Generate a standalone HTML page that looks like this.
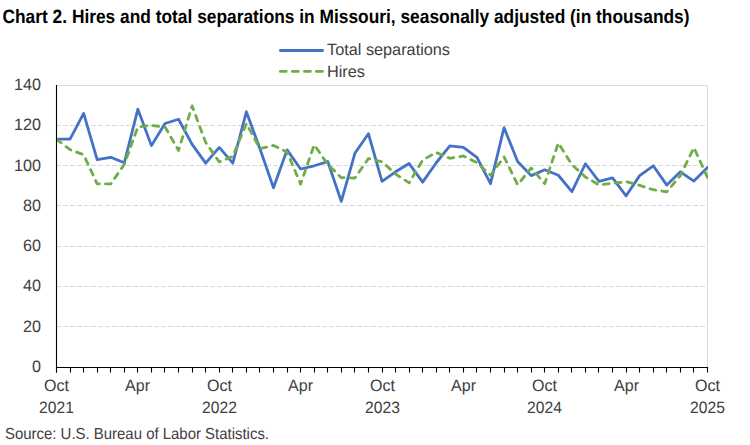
<!DOCTYPE html>
<html><head><meta charset="utf-8">
<style>
html,body{margin:0;padding:0;background:#fff;}
body{width:750px;height:445px;overflow:hidden;}
svg{display:block;font-family:"Liberation Sans",sans-serif;text-rendering:geometricPrecision;}
</style></head>
<body>
<svg width="750" height="445" viewBox="0 0 750 445">
<defs><clipPath id="pc"><rect x="56.5" y="0" width="651.5" height="445"/></clipPath></defs>
<rect x="0" y="0" width="750" height="445" fill="#fff"/>
<text x="2.5" y="22.7" font-size="19.2" font-weight="bold" fill="#000" textLength="687" lengthAdjust="spacingAndGlyphs">Chart 2. Hires and total separations in Missouri, seasonally adjusted (in thousands)</text>
<line x1="280.4" y1="50.5" x2="322.6" y2="50.5" stroke="#4472C4" stroke-width="2.8" stroke-linecap="round"/>
<path d="M280.4 71.4H286.2M292.4 71.4H298.3M304.4 71.4H310.4M316.4 71.4H322.5" stroke="#70AD47" stroke-width="2.8" stroke-linecap="round"/>
<g font-size="16.3" fill="#404040">
<text x="327" y="55.2" textLength="123" lengthAdjust="spacingAndGlyphs">Total separations</text>
<text x="327" y="76.6" textLength="38" lengthAdjust="spacingAndGlyphs">Hires</text>
</g>
<path d="M56 326.5H707M56 286.5H707M56 246.5H707M56 205.5H707M56 165.5H707M56 125.5H707" fill="none" stroke="#D9D9D9" stroke-width="1" stroke-dasharray="5 2"/>
<path d="M56 85.5H707.5V367" fill="none" stroke="#D9D9D9" stroke-width="1"/>
<g font-size="16.5" fill="#404040" text-anchor="end">
<text x="41" y="372.00" textLength="9.0" lengthAdjust="spacingAndGlyphs">0</text>
<text x="41" y="331.71" textLength="18.0" lengthAdjust="spacingAndGlyphs">20</text>
<text x="41" y="291.43" textLength="18.0" lengthAdjust="spacingAndGlyphs">40</text>
<text x="41" y="251.14" textLength="18.0" lengthAdjust="spacingAndGlyphs">60</text>
<text x="41" y="210.86" textLength="18.0" lengthAdjust="spacingAndGlyphs">80</text>
<text x="41" y="170.57" textLength="27.0" lengthAdjust="spacingAndGlyphs">100</text>
<text x="41" y="130.29" textLength="27.0" lengthAdjust="spacingAndGlyphs">120</text>
<text x="41" y="90.00" textLength="27.0" lengthAdjust="spacingAndGlyphs">140</text>
</g>
<g font-size="16.5" fill="#404040" text-anchor="middle">
<text x="56.5" y="391" textLength="25" lengthAdjust="spacingAndGlyphs">Oct</text>
<text x="56.5" y="413" textLength="34.8" lengthAdjust="spacingAndGlyphs">2021</text>
<text x="137.5" y="391" textLength="25" lengthAdjust="spacingAndGlyphs">Apr</text>
<text x="219.5" y="391" textLength="25" lengthAdjust="spacingAndGlyphs">Oct</text>
<text x="219.5" y="413" textLength="34.8" lengthAdjust="spacingAndGlyphs">2022</text>
<text x="300.5" y="391" textLength="25" lengthAdjust="spacingAndGlyphs">Apr</text>
<text x="382.5" y="391" textLength="25" lengthAdjust="spacingAndGlyphs">Oct</text>
<text x="382.5" y="413" textLength="34.8" lengthAdjust="spacingAndGlyphs">2023</text>
<text x="463.5" y="391" textLength="25" lengthAdjust="spacingAndGlyphs">Apr</text>
<text x="544.5" y="391" textLength="25" lengthAdjust="spacingAndGlyphs">Oct</text>
<text x="544.5" y="413" textLength="34.8" lengthAdjust="spacingAndGlyphs">2024</text>
<text x="626.5" y="391" textLength="25" lengthAdjust="spacingAndGlyphs">Apr</text>
<text x="707.5" y="391" textLength="25" lengthAdjust="spacingAndGlyphs">Oct</text>
<text x="707.5" y="413" textLength="34.8" lengthAdjust="spacingAndGlyphs">2025</text>
</g>
<g clip-path="url(#pc)">
<polyline points="56.50,139.18 70.06,139.18 83.62,113.40 97.19,159.73 110.75,157.31 124.31,162.75 137.88,109.17 151.44,145.63 165.00,123.47 178.56,119.24 192.12,144.42 205.69,163.15 219.25,147.44 232.81,163.15 246.38,111.79 259.94,148.85 273.50,187.73 287.06,149.86 300.62,169.00 314.19,165.77 327.75,161.54 341.31,201.43 354.88,153.28 368.44,133.75 382.00,181.28 395.56,171.82 409.12,163.56 422.69,182.09 436.25,162.75 449.81,145.83 463.38,147.44 476.94,157.31 490.50,183.70 504.06,127.70 517.62,161.54 531.19,175.64 544.75,169.80 558.31,175.24 571.88,191.56 585.44,163.76 599.00,181.28 612.56,177.86 626.12,195.79 639.69,175.64 653.25,165.77 666.81,185.11 680.38,171.82 693.94,181.08 707.50,167.59" fill="none" stroke="#4472C4" stroke-width="2.8" stroke-linejoin="round" stroke-linecap="round"/>
<polyline points="56.50,139.39 70.06,149.66 83.62,154.69 97.19,183.90 110.75,183.90 124.31,164.36 137.88,126.90 151.44,125.49 165.00,126.90 178.56,150.46 192.12,105.95 205.69,142.41 219.25,161.95 232.81,156.31 246.38,123.67 259.94,148.65 273.50,145.43 287.06,152.08 300.62,184.10 314.19,144.82 327.75,164.36 341.31,177.66 354.88,178.06 368.44,158.52 382.00,161.74 395.56,174.03 409.12,182.89 422.69,160.13 436.25,152.48 449.81,158.32 463.38,155.90 476.94,162.75 490.50,175.24 504.06,156.91 517.62,184.71 531.19,167.99 544.75,183.70 558.31,143.01 571.88,164.56 585.44,177.05 599.00,184.91 612.56,183.30 626.12,181.69 639.69,185.31 653.25,189.74 666.81,191.76 680.38,175.64 693.94,147.64 707.50,177.46" fill="none" stroke="#70AD47" stroke-width="2.8" stroke-linejoin="round" stroke-linecap="round" stroke-dasharray="5.8 6.2"/>
</g>
<path d="M56.5 85V372.8M56 367.5H708M70.5 367V372.4M83.5 367V372.4M97.5 367V372.4M110.5 367V372.4M124.5 367V372.4M137.5 367V372.4M151.5 367V372.4M164.5 367V372.4M178.5 367V372.4M192.5 367V372.4M205.5 367V372.4M219.5 367V372.4M232.5 367V372.4M246.5 367V372.4M259.5 367V372.4M273.5 367V372.4M287.5 367V372.4M300.5 367V372.4M314.5 367V372.4M327.5 367V372.4M341.5 367V372.4M354.5 367V372.4M368.5 367V372.4M382.5 367V372.4M395.5 367V372.4M409.5 367V372.4M422.5 367V372.4M436.5 367V372.4M449.5 367V372.4M463.5 367V372.4M476.5 367V372.4M490.5 367V372.4M504.5 367V372.4M517.5 367V372.4M531.5 367V372.4M544.5 367V372.4M558.5 367V372.4M571.5 367V372.4M585.5 367V372.4M598.5 367V372.4M612.5 367V372.4M626.5 367V372.4M639.5 367V372.4M653.5 367V372.4M666.5 367V372.4M680.5 367V372.4M693.5 367V372.4M707.5 367V372.4" fill="none" stroke="#000" stroke-width="1.1"/>
<text x="5" y="438.5" font-size="16" fill="#404040" textLength="264" lengthAdjust="spacingAndGlyphs">Source: U.S. Bureau of Labor Statistics.</text>
</svg>
</body></html>
